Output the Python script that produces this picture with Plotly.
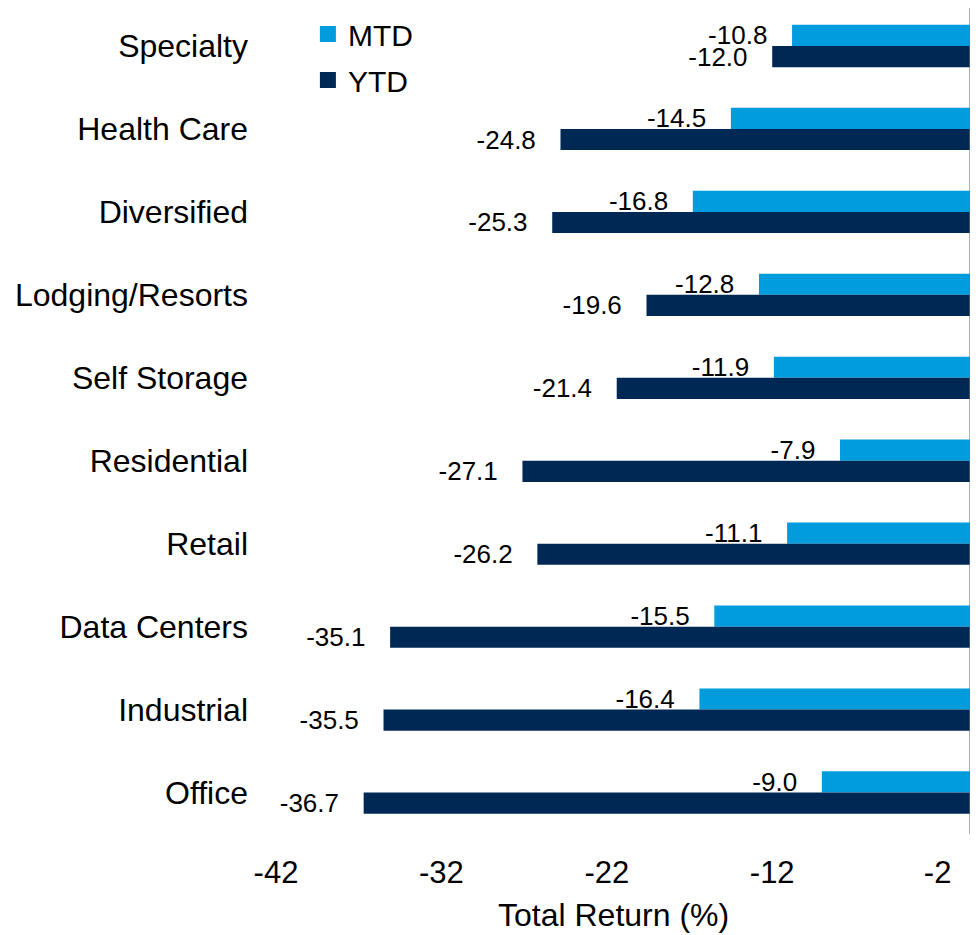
import plotly.graph_objects as go

categories = ["Specialty", "Health Care", "Diversified", "Lodging/Resorts", "Self Storage",
              "Residential", "Retail", "Data Centers", "Industrial", "Office"]
mtd = [-10.8, -14.5, -16.8, -12.8, -11.9, -7.9, -11.1, -15.5, -16.4, -9.0]
ytd = [-12.0, -24.8, -25.3, -19.6, -21.4, -27.1, -26.2, -35.1, -35.5, -36.7]
x_ticks = [-42, -32, -22, -12, -2]

FONT = "Liberation Sans, Arial, sans-serif"
PAD = "\u00a0\u00a0\u00a0"
C_MTD = "#009CDE"
C_YTD = "#002855"

fig = go.Figure()
fig.add_trace(go.Bar(
    y=categories, x=mtd, name="MTD", orientation="h",
    marker=dict(color=C_MTD, line=dict(width=0)),
    texttemplate="%{x:.1f}" + PAD, textposition="outside",
    textfont=dict(size=26, color="black", family=FONT),
    cliponaxis=False, showlegend=False,
))
fig.add_trace(go.Bar(
    y=categories, x=ytd, name="YTD", orientation="h",
    marker=dict(color=C_YTD, line=dict(width=0)),
    texttemplate="%{x:.1f}" + PAD, textposition="outside",
    textfont=dict(size=26, color="black", family=FONT),
    cliponaxis=False, showlegend=False,
))
# legend-only entries with larger square swatches
for nm, col, grp in [("MTD", C_MTD, "a"), ("YTD", C_YTD, "b")]:
    fig.add_trace(go.Scatter(
        x=[None], y=[None], mode="markers", name=nm, legendgroup=grp,
        marker=dict(symbol="square", size=16, color=col),
        hoverinfo="skip",
    ))

fig.update_layout(
    width=970, height=927,
    margin=dict(l=268, r=4, t=0, b=101),
    plot_bgcolor="white", paper_bgcolor="white",
    barmode="group", bargap=0.49, bargroupgap=0,
    font=dict(family=FONT, color="black"),
    showlegend=True,
    legend=dict(x=0.0457, y=1.0, xanchor="left", yanchor="top",
                font=dict(size=30, color="black", family=FONT),
                bgcolor="rgba(0,0,0,0)", tracegroupgap=4,
                traceorder="grouped"),
    xaxis=dict(range=[-42, 0.2], tickmode="array", tickvals=x_ticks,
               ticktext=[str(t) for t in x_ticks], showgrid=False,
               zeroline=False, showline=False, ticks="",
               tickfont=dict(size=31, color="black", family=FONT),
               ticklabelstandoff=17),
    yaxis=dict(range=[9.5, -0.458], showgrid=False, zeroline=False, showline=False,
               ticks="", tickfont=dict(size=32, color="black", family=FONT),
               ticklabelstandoff=27, type="category"),
    shapes=[dict(type="line", xref="x", yref="paper", x0=0, x1=0, y0=0, y1=1,
                 line=dict(color="#737373", width=2.5), layer="above")],
    annotations=[dict(text="Total Return (%)", xref="paper", yref="paper",
                      x=0.483, y=0, xanchor="center", yanchor="middle",
                      yshift=-81, showarrow=False,
                      font=dict(size=32, color="black", family=FONT))],
)
fig.update_traces(selector=dict(type="bar"), textangle=0, constraintext="none")

fig.write_html("out.html")
